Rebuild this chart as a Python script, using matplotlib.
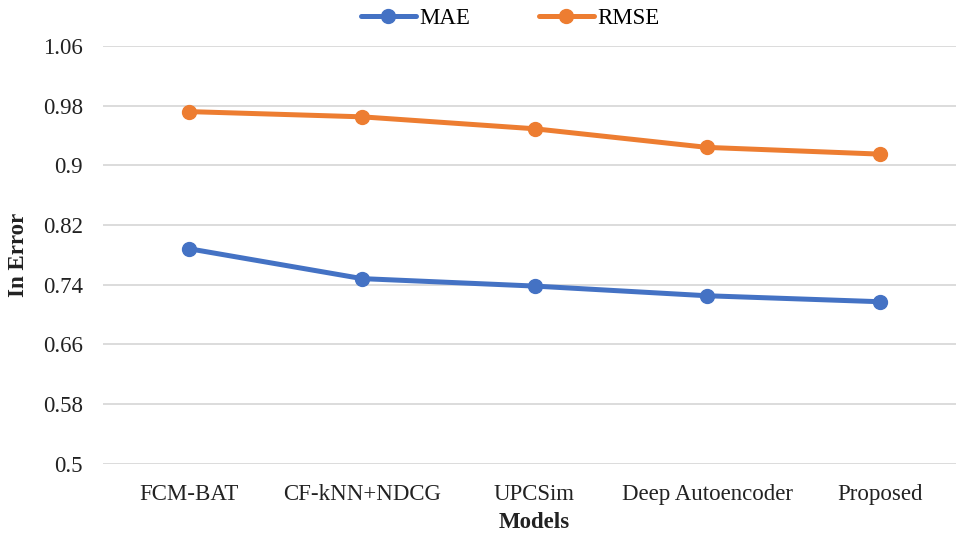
import matplotlib.pyplot as plt

# values
models = ["FCM-BAT", "CF-kNN+NDCG", "UPCSim", "Deep Autoencoder", "Proposed"]
mae = [0.788, 0.748, 0.738, 0.725, 0.717]
rmse = [0.972, 0.965, 0.949, 0.924, 0.915]
yticks = [0.5, 0.58, 0.66, 0.74, 0.82, 0.9, 0.98, 1.06]
ytick_labels = ["0.5", "0.58", "0.66", "0.74", "0.82", "0.9", "0.98", "1.06"]

plt.rcParams["font.family"] = ["Liberation Serif", "DejaVu Serif"]

fig = plt.figure(figsize=(9.56, 5.38), dpi=100)
# plot area runs a little past the right edge, as in the source image
ax = fig.add_axes([103 / 956, 74.5 / 538, 863 / 956, 417.5 / 538])

x = range(len(models))
ax.plot(x, mae, color="#4472C4", lw=3.6, marker="o", ms=10, label="MAE",
        solid_capstyle="round", zorder=3)
ax.plot(x, rmse, color="#ED7D31", lw=3.6, marker="o", ms=10, label="RMSE",
        solid_capstyle="round", zorder=3)

ax.set_xlim(-0.5, len(models) - 0.5)
ax.set_ylim(0.5, 1.06)
ax.set_yticks(yticks)
ax.set_yticklabels(ytick_labels)
ax.set_xticks(list(x))
ax.set_xticklabels(models)
ax.tick_params(axis="both", length=0, labelsize=16.5, colors="#222222")
ax.tick_params(axis="x", pad=15)
ax.tick_params(axis="y", pad=14.5)

ax.yaxis.grid(True, color="#d9d9d9", lw=1.3)
ax.set_axisbelow(True)
for s in ax.spines.values():
    s.set_visible(False)

fig.text(534 / 956, 1 - 523 / 538, "Models", ha="center", va="center",
         fontsize=16.5, fontweight="bold", color="#222222")
fig.text(18 / 956, 1 - 255 / 538, "In Error", ha="center", va="center",
         rotation=90, fontsize=16.5, fontweight="bold", color="#222222")

fig.legend(loc="center", bbox_to_anchor=(510 / 956, 1 - 18 / 538), ncol=2,
           frameon=False, fontsize=16.5, handlelength=2.4, handletextpad=0.15,
           columnspacing=3.0)

fig.savefig("out.png", dpi=100)
